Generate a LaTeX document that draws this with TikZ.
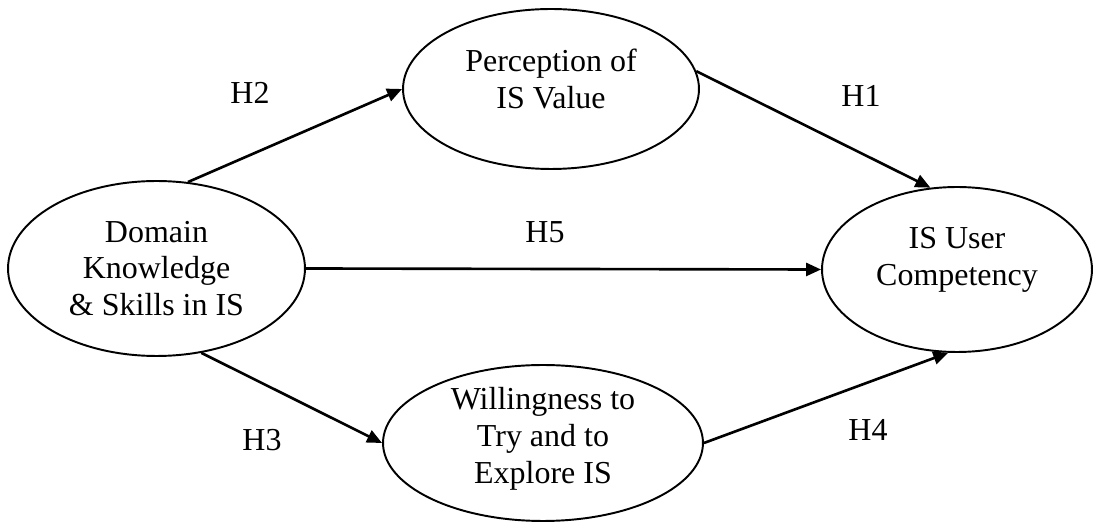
\documentclass[tikz,border=0pt]{standalone}
\usepackage{fontspec}
\setmainfont{Liberation Serif}
\usetikzlibrary{shapes.geometric, arrows.meta}
\tikzset{
	oval/.style = {ellipse, draw=black, line width=1.1pt, inner sep=0pt},
	ovaltext/.style = {align=center, font=\fontsize{18.2}{21}\selectfont},
	hyp/.style = {font=\fontsize{18.2}{21}\selectfont}}
\tikzset{
	link/.style = {-{Triangle[length=0.3cm, width=0.26cm]}, line width=1.5pt}}

\begin{document}
\begin{tikzpicture}[x=0.02cm, y=-0.02cm]
\useasboundingbox (0,0) rectangle (1093,523);

% NODES
% domain knowledge, left
\node (dom) [oval, minimum width=5.94cm, minimum height=3.5cm,
	label={[ovaltext]center:Domain\\Knowledge\\\& Skills in IS}] at (156.5,268.5) {};
% perception, top
\node (val) [oval, minimum width=5.92cm, minimum height=3.2cm,
	label={[ovaltext, yshift=0.2cm]center:Perception of\\IS Value}] at (551,89) {};
% willingness, bottom
\node (will) [oval, minimum width=6.4cm, minimum height=3.12cm,
	label={[ovaltext, yshift=0.08cm]center:Willingness to\\Try and to\\Explore IS}] at (543,443) {};
% competency, right
\node (comp) [oval, minimum width=5.4cm, minimum height=3.3cm,
	label={[ovaltext, yshift=0.2cm]center:IS User\\Competency}] at (957,269.5) {};
% hypotheses
\node (h1) [hyp] at (861,96) {H1};
\node (h2) [hyp] at (250,93) {H2};
\node (h3) [hyp] at (262,440) {H3};
\node (h4) [hyp] at (868,430) {H4};
\node (h5) [hyp] at (545,232) {H5};

%CONNECTIONS
\draw [link] (dom.70) -- (val.west);
\draw [link] (val.7) -- (comp.108);
\draw [link] (dom.east) -- (comp.west);
\draw [link] (dom.-62) -- (will.west);
\draw [link] (will.east) -- (comp.-96);

\end{tikzpicture}
\end{document}
